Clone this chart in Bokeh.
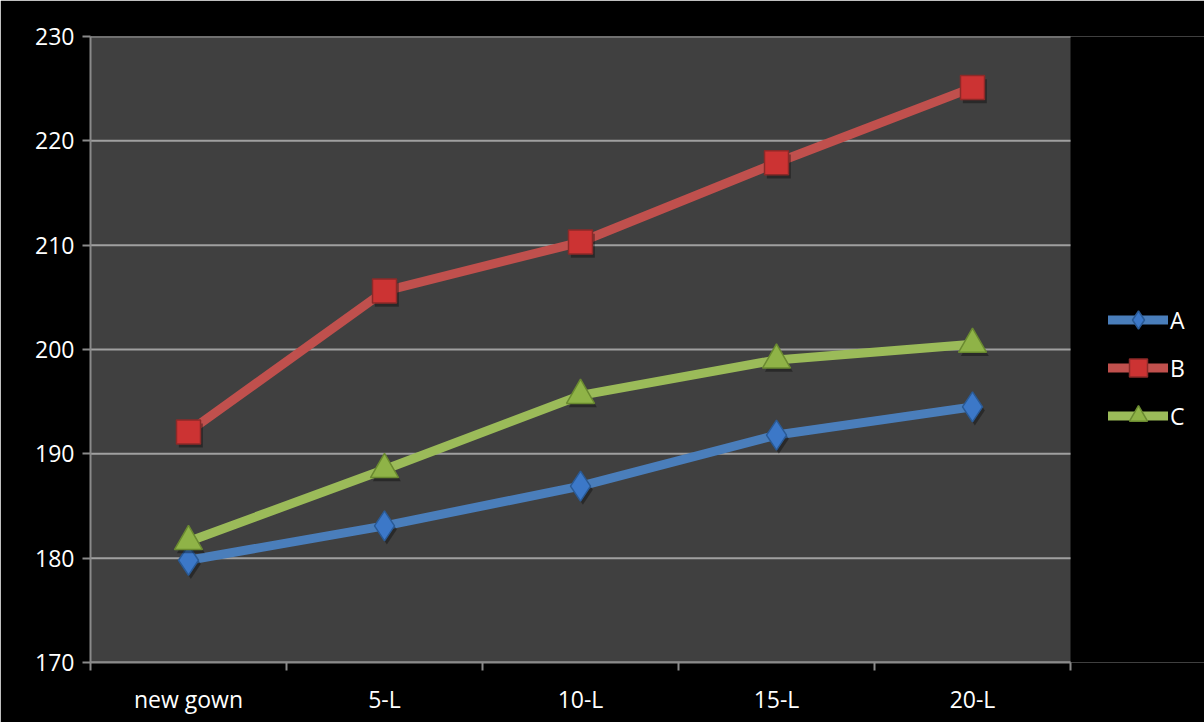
from bokeh.plotting import figure
from bokeh.models import FixedTicker, Range1d, Legend, LegendItem
from bokeh.embed import file_html
from bokeh.resources import INLINE

categories = ["new gown", "5-L", "10-L", "15-L", "20-L"]
series_a = [179.8, 183.1, 186.9, 191.8, 194.5]
series_b = [192.1, 205.6, 210.3, 217.9, 225.1]
series_c = [181.6, 188.5, 195.6, 199.0, 200.5]
series_names = ["A", "B", "C"]
y_ticks = [170, 180, 190, 200, 210, 220, 230]

n = len(categories)
xs = [i + 0.5 for i in range(n)]
# plot area occupies 980 of the 1114 px frame; the rest holds the legend
x_end = n * 1114 / 980

p = figure(width=1204, height=722, output_backend="svg", toolbar_location=None,
           x_range=Range1d(0, x_end), y_range=Range1d(170, 230),
           min_border_left=90, min_border_right=0, min_border_top=36, min_border_bottom=60)
p.background_fill_color = "#000000"
p.border_fill_color = "#000000"
p.outline_line_color = None

font = "Open Sans"
fsize = "23px"
gray = "#8a8a8a"

# plot area background and gridlines
p.quad(left=[0], right=[n], bottom=[y_ticks[0]], top=[y_ticks[-1]], fill_color="#404040", line_color=None)
p.segment(x0=[0] * len(y_ticks), x1=[n] * len(y_ticks), y0=y_ticks, y1=y_ticks,
          line_color="#a0a0a0", line_width=2)
p.xgrid.grid_line_color = None
p.ygrid.grid_line_color = None

p.yaxis.ticker = FixedTicker(ticks=y_ticks)
p.yaxis.axis_line_color = gray
p.yaxis.axis_line_width = 2
p.yaxis.major_tick_line_color = gray
p.yaxis.major_tick_line_width = 2
p.yaxis.major_tick_in = 0
p.yaxis.major_tick_out = 8
p.yaxis.minor_tick_line_color = None
p.yaxis.major_label_text_color = "white"
p.yaxis.major_label_text_font = font
p.yaxis.major_label_text_font_size = fsize
p.yaxis.major_label_standoff = 8

p.xaxis.ticker = FixedTicker(ticks=xs, minor_ticks=list(range(n + 1)))
p.xaxis.bounds = (0, n)
p.xaxis.major_label_overrides = {x: c for x, c in zip(xs, categories)}
p.xaxis.axis_line_color = gray
p.xaxis.axis_line_width = 2
p.xaxis.major_tick_line_color = None
p.xaxis.minor_tick_line_color = gray
p.xaxis.minor_tick_line_width = 2
p.xaxis.minor_tick_in = 0
p.xaxis.minor_tick_out = 8
p.xaxis.major_label_text_color = "white"
p.xaxis.major_label_text_font = font
p.xaxis.major_label_text_font_size = fsize
p.xaxis.major_label_standoff = 12

items = []
specs = [
    (series_a, "#4a7ebb", "#3c78c8", "#2a5a95", "diamond", 30),
    (series_b, "#c0504d", "#cc3333", "#8c2a28", "square", 24),
    (series_c, "#9bbb59", "#8fb347", "#6a8a30", "triangle", 28),
]
for name, (vals, lc, fc, ec, marker, size) in zip(series_names, specs):
    r1 = p.line(xs, vals, line_color=lc, line_width=9, line_cap="round", line_join="round")
    p.scatter([x + 0.012 for x in xs], [v - 0.35 for v in vals], marker=marker, size=size,
              fill_color="black", fill_alpha=0.35, line_color=None)
    r2 = p.scatter(xs, vals, marker=marker, size=size, fill_color=fc, line_color=ec, line_width=1.5)
    items.append(LegendItem(label=name, renderers=[r1, r2]))

legend = Legend(items=items, location=(1018, 224), background_fill_alpha=0, border_line_color=None,
                label_text_color="white", label_text_font=font, label_text_font_size=fsize,
                glyph_width=60, glyph_height=45, spacing=3, label_standoff=2, padding=0, margin=0)
p.add_layout(legend, "center")

open("out.html", "w").write(file_html(p, INLINE))
